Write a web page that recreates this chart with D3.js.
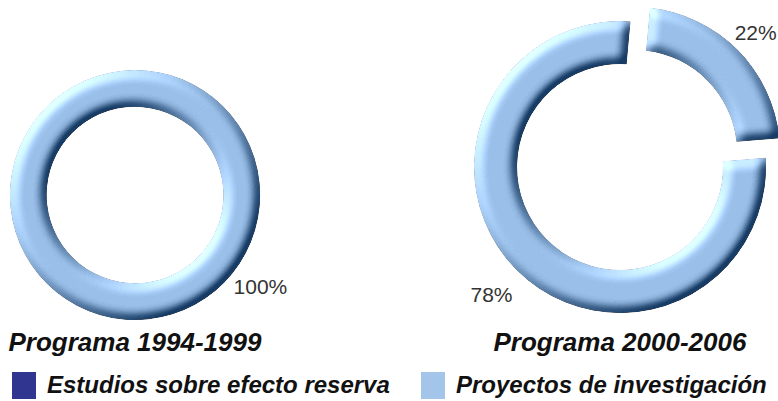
<!DOCTYPE html>
<html>
<head>
<meta charset="utf-8">
<script src="https://cdn.jsdelivr.net/npm/d3@7"></script>
<style>
  body { margin: 0; background: #fff; }
  svg { display: block; font-family: "Liberation Sans", Arial, sans-serif; }
</style>
</head>
<body>
<svg id="chart" width="778" height="401"></svg>
<script>
// data
const categories = ["Estudios sobre efecto reserva", "Proyectos de investigación"];
const programs = ["Programa 1994-1999", "Programa 2000-2006"];
const shares1994 = [0, 100];
const shares2000 = [22, 78];

const legendColors = ["#30358f", "#a3c5ea"];
const ringColor = "#9abfe8";

const svg = d3.select('#chart');

// bevel look of the rings
const defs = svg.append('defs');
const f = defs.append('filter').attr('id', 'bevel')
    .attr('x', '-10%').attr('y', '-10%').attr('width', '120%').attr('height', '120%')
    .attr('color-interpolation-filters', 'sRGB');
f.append('feGaussianBlur').attr('in', 'SourceAlpha').attr('stdDeviation', 5.5).attr('result', 'blur');
f.append('feDiffuseLighting').attr('in', 'blur').attr('surfaceScale', 7)
    .attr('diffuseConstant', 1).attr('lighting-color', '#fff').attr('result', 'light')
    .append('feDistantLight').attr('azimuth', 225).attr('elevation', 40);
f.append('feComposite').attr('in', 'light').attr('in2', 'SourceGraphic')
    .attr('operator', 'arithmetic').attr('k1', 0).attr('k2', 0.8).attr('k3', 1).attr('k4', -0.514)
    .attr('result', 'lit');
f.append('feComposite').attr('in', 'lit').attr('in2', 'SourceAlpha').attr('operator', 'in');

const rings = [
    {title: programs[0], values: shares1994, cx: 135, cy: 195, r: 125},
    {title: programs[1], values: shares2000, cx: 620, cy: 167, r: 146}
];

const rot = 0.09;

rings.forEach(function(ring) {
    const nonZero = ring.values.filter(function(v) { return v > 0; }).length;
    const pie = d3.pie().sort(null)
        .startAngle(rot).endAngle(rot + 2 * Math.PI)
        .padAngle(nonZero > 1 ? 0.03 : 0);
    const arc = d3.arc().innerRadius(ring.r * 0.705).outerRadius(ring.r);
    const slices = pie(ring.values).filter(function(d) { return d.value > 0; });

    function midAngle(d) {
        return nonZero > 1 ? (d.startAngle + d.endAngle) / 2 : 0.7 * Math.PI;
    }
    // pull out the first category when the ring is split
    function pull(d) {
        return (nonZero > 1 && d.index === 0) ? 20 : 0;
    }

    const g = svg.append('g')
        .attr('transform', 'translate(' + ring.cx + ',' + ring.cy + ')');

    g.selectAll('path').data(slices).enter().append('path')
        .attr('d', arc)
        .attr('fill', ringColor)
        .attr('filter', 'url(#bevel)')
        .attr('transform', function(d) {
            const m = midAngle(d);
            return 'translate(' + (pull(d) * Math.sin(m)) + ',' + (-pull(d) * Math.cos(m)) + ')';
        });

    g.selectAll('text.pct').data(slices).enter().append('text')
        .attr('class', 'pct')
        .attr('x', function(d) { return (ring.r * 1.24 + pull(d) / 2) * Math.sin(midAngle(d)); })
        .attr('y', function(d) { return -(ring.r * 1.24 + pull(d) / 2) * Math.cos(midAngle(d)); })
        .attr('dy', '0.36em')
        .attr('text-anchor', 'middle')
        .attr('font-size', 21)
        .attr('fill', '#333')
        .text(function(d) { return d.value + '%'; });

    svg.append('text')
        .attr('x', ring.cx)
        .attr('y', 351)
        .attr('text-anchor', 'middle')
        .attr('font-size', 26)
        .attr('font-weight', 'bold')
        .attr('font-style', 'italic')
        .attr('fill', '#111')
        .text(ring.title);
});

// legend
const legendX = [12, 421];
const legend = svg.append('g').selectAll('g').data(categories).enter().append('g')
    .attr('transform', function(d, i) { return 'translate(' + legendX[i] + ',372)'; });

legend.append('rect')
    .attr('width', 24).attr('height', 27)
    .attr('fill', function(d, i) { return legendColors[i]; });

legend.append('text')
    .attr('x', 35).attr('y', 21)
    .attr('font-size', 24)
    .attr('font-weight', 'bold')
    .attr('font-style', 'italic')
    .attr('fill', '#111')
    .text(function(d) { return d; });
</script>
</body>
</html>
